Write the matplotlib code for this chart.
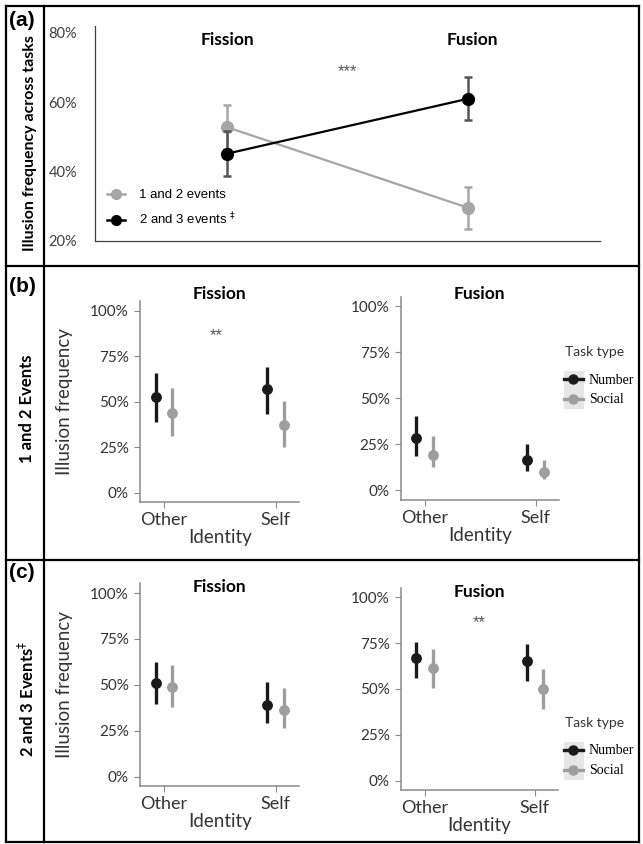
import matplotlib
matplotlib.use('Agg')
import matplotlib.pyplot as plt
from matplotlib.lines import Line2D
from matplotlib.patches import Rectangle
import matplotlib.transforms as mtrans
import numpy as np

# ---------------- data ----------------
# Panel (a): illusion frequency across tasks (%)
conditions_a = ['Fission', 'Fusion']
series_a = ['1 and 2 events', '2 and 3 events $^{‡}$']
ev12_mean = [52.8, 29.6]
ev12_lo = [46.4, 23.5]
ev12_hi = [59.2, 35.5]
ev23_mean = [45.2, 61.0]
ev23_lo = [38.6, 54.9]
ev23_hi = [51.8, 67.3]
yticks_a = [20, 40, 60, 80]

# Panels (b), (c)
identity = ['Other', 'Self']
task_types = ['Number', 'Social']
yticks_bc = [0, 25, 50, 75, 100]

b_fis_num = [52.4, 56.8]; b_fis_num_lo = [38.7, 43.1]; b_fis_num_hi = [65.7, 69.2]
b_fis_soc = [43.8, 36.9]; b_fis_soc_lo = [31.2, 25.2]; b_fis_soc_hi = [57.5, 50.2]
b_fus_num = [28.4, 16.3]; b_fus_num_lo = [18.8, 10.3]; b_fus_num_hi = [40.4, 25.0]
b_fus_soc = [19.2, 10.0]; b_fus_soc_lo = [12.5, 6.2]; b_fus_soc_hi = [29.5, 16.3]

c_fis_num = [51.0, 39.2]; c_fis_num_lo = [39.6, 29.2]; c_fis_num_hi = [62.4, 51.4]
c_fis_soc = [48.6, 36.3]; c_fis_soc_lo = [37.7, 26.5]; c_fis_soc_hi = [60.6, 48.1]
c_fus_num = [67.1, 65.1]; c_fus_num_lo = [56.2, 54.4]; c_fus_num_hi = [75.9, 74.5]
c_fus_soc = [61.7, 49.9]; c_fus_soc_lo = [50.3, 39.1]; c_fus_soc_hi = [71.6, 61.1]

# ---------------- style ----------------
W, H = 643, 844
SANS = ['Lato', 'DejaVu Sans']
ARIAL = ['Liberation Sans', 'DejaVu Sans']
SERIF = ['Liberation Serif', 'DejaVu Serif']
C_NUM = '#1a1a1a'
C_SOC = '#9e9e9e'
C_A12 = '#a6a6a6'
SPINE = '#8a8a8a'

fig = plt.figure(figsize=(W / 100, H / 100), dpi=100)
fig.patch.set_facecolor('white')


def fx(px):
    return px / W


def fy(py):
    return 1 - py / H


def ax_px(x0, y0, x1, y1):
    return fig.add_axes([fx(x0), fy(y1), fx(x1) - fx(x0), (y1 - y0) / H])


# ---------------- frame ----------------
frame_lw = 1.6
L, R, T, B = 6, 639, 6, 842
for (xa_, ya_, xb_, yb_) in [(L, T, R, T), (L, B, R, B), (L, T, L, B), (R, T, R, B),
                             (44, T, 44, B), (L, 266, R, 266), (L, 560, R, 560)]:
    fig.add_artist(Line2D([fx(xa_), fx(xb_)], [fy(ya_), fy(yb_)], color='black',
                          lw=frame_lw, transform=fig.transFigure, solid_capstyle='projecting'))

# ---------------- left column labels ----------------
fig.text(fx(22), fy(20), '(a)', fontsize=15, fontweight='bold', family=ARIAL,
         ha='center', va='center')
fig.text(fx(30), fy(143), 'Illusion frequency across tasks', fontsize=11.5,
         fontweight='bold', family=SANS, rotation=90, ha='center', va='center')
fig.text(fx(22), fy(287), '(b)', fontsize=15, fontweight='bold', family=ARIAL,
         ha='center', va='center')
fig.text(fx(27), fy(409), '1 and 2 Events', fontsize=12,
         fontweight='bold', family=SANS, rotation=90, ha='center', va='center')
fig.text(fx(22), fy(573), '(c)', fontsize=15, fontweight='bold', family=ARIAL,
         ha='center', va='center')
fig.text(fx(27), fy(699), '2 and 3 Events$^{‡}$', fontsize=12,
         fontweight='bold', family=SANS, rotation=90, ha='center', va='center')

# ---------------- panel (a) ----------------
axa = ax_px(95, 26, 600, 241)
xa = np.arange(len(conditions_a))
m12 = np.array(ev12_mean)
m23 = np.array(ev23_mean)
axa.errorbar(xa, m12, yerr=[m12 - np.array(ev12_lo), np.array(ev12_hi) - m12],
             color=C_A12, ecolor=C_A12, lw=1.6, elinewidth=1.8, capsize=3,
             capthick=1.8, marker='o', ms=8.5, zorder=2)
axa.errorbar(xa, m23, yerr=[m23 - np.array(ev23_lo), np.array(ev23_hi) - m23],
             color='black', ecolor='#555555', lw=1.6, elinewidth=1.8, capsize=3,
             capthick=1.8, marker='o', ms=8.5, zorder=3)
axa.set_xlim(-0.55, 1.55)
axa.set_ylim(20, 82)
axa.set_yticks(yticks_a)
axa.set_yticklabels([f'{v}%' for v in yticks_a], family=SANS, fontsize=10.5, color='#404040')
axa.set_xticks([])
axa.tick_params(axis='y', length=0, pad=13)
for s in ['top', 'right']:
    axa.spines[s].set_visible(False)
for s in ['left', 'bottom']:
    axa.spines[s].set_color('#404040')
    axa.spines[s].set_linewidth(0.9)
blend = mtrans.blended_transform_factory(axa.transData, axa.transAxes)
for i, name in enumerate(conditions_a):
    axa.text(i + 0.02 * i, 0.935, name, transform=blend,
             fontsize=12.5, fontweight='bold', family=SANS, ha='center', va='center')
axa.text(0.5, 0.79, '***', transform=axa.transAxes, ha='center', va='center',
         fontsize=12, color='#555555', family=ARIAL)
handles_a = [Line2D([], [], color=C_A12, lw=1.8, marker='o', ms=7),
             Line2D([], [], color='black', lw=1.8, marker='o', ms=7)]
axa.legend(handles_a, series_a, loc='upper left', bbox_to_anchor=(fx(107), fy(189)),
           bbox_transform=fig.transFigure, frameon=False,
           prop={'family': ARIAL, 'size': 9.5}, handlelength=1.4,
           handletextpad=1.0, labelspacing=0.75, borderpad=0, borderaxespad=0)

# ---------------- panels (b), (c) ----------------
xpos = np.arange(len(identity)) + 1
dodge = 0.075


def pointrange(ax, xs, mean, lo, hi, color):
    mean = np.array(mean)
    ax.errorbar(xs, mean, yerr=[mean - np.array(lo), np.array(hi) - mean], fmt='o',
                color=color, ecolor=color, elinewidth=2.4, ms=6.8, capsize=0, zorder=3)


def style_bc(ax, ylabel=False):
    ax.set_xlim(0.785, 2.21)
    ax.set_ylim(-5.3, 105.3)
    ax.set_yticks(yticks_bc)
    ax.set_yticklabels([f'{v}%' for v in yticks_bc], family=SANS, fontsize=11, color='#333333')
    ax.set_xticks(xpos)
    ax.set_xticklabels(identity, family=SANS, fontsize=13, color='#333333')
    off = mtrans.ScaledTranslation(8 / 100, 0, fig.dpi_scale_trans)
    for lab in ax.get_xticklabels():
        lab.set_transform(lab.get_transform() + off)
    ax.tick_params(axis='both', length=4, width=0.8, color=SPINE)
    ax.tick_params(axis='y', pad=4)
    ax.tick_params(axis='x', pad=3)
    for s in ['top', 'right']:
        ax.spines[s].set_visible(False)
    for s in ['left', 'bottom']:
        ax.spines[s].set_color(SPINE)
        ax.spines[s].set_linewidth(1.1)
    ax.set_xlabel('Identity', family=SANS, fontsize=13.5, color='#333333', labelpad=1)
    if ylabel:
        ax.set_ylabel('Illusion frequency', family=SANS, fontsize=13.5, color='#333333')
        ax.yaxis.set_label_coords(-0.42, 0.5)


def title_bc(ax, text, y=1.04):
    ax.text(0.5, y, text, transform=ax.transAxes, ha='center', va='center',
            fontsize=12.5, fontweight='bold', family=SANS)


def stars(ax, text, x, y):
    ax.text(x, y, text, transform=ax.transAxes, ha='center', va='center',
            fontsize=12, color='#555555', family=ARIAL)


axb1 = ax_px(140, 301, 299.3, 502.3)
pointrange(axb1, xpos - dodge, b_fis_num, b_fis_num_lo, b_fis_num_hi, C_NUM)
pointrange(axb1, xpos + dodge, b_fis_soc, b_fis_soc_lo, b_fis_soc_hi, C_SOC)
style_bc(axb1, ylabel=True)
title_bc(axb1, 'Fission', 1.035)
stars(axb1, '**', 0.48, 0.83)

axb2 = ax_px(400.7, 296.7, 559, 500)
pointrange(axb2, xpos - dodge, b_fus_num, b_fus_num_lo, b_fus_num_hi, C_NUM)
pointrange(axb2, xpos + dodge, b_fus_soc, b_fus_soc_lo, b_fus_soc_hi, C_SOC)
style_bc(axb2)
title_bc(axb2, 'Fusion', 1.015)

axc1 = ax_px(140, 583.3, 299.3, 786.3)
pointrange(axc1, xpos - dodge, c_fis_num, c_fis_num_lo, c_fis_num_hi, C_NUM)
pointrange(axc1, xpos + dodge, c_fis_soc, c_fis_soc_lo, c_fis_soc_hi, C_SOC)
style_bc(axc1, ylabel=True)
title_bc(axc1, 'Fission', 0.98)

axc2 = ax_px(401, 587.7, 558, 790.3)
pointrange(axc2, xpos - dodge, c_fus_num, c_fus_num_lo, c_fus_num_hi, C_NUM)
pointrange(axc2, xpos + dodge, c_fus_soc, c_fus_soc_lo, c_fus_soc_hi, C_SOC)
style_bc(axc2)
title_bc(axc2, 'Fusion', 0.98)
stars(axc2, '**', 0.5, 0.83)


# ---------------- Task type legends ----------------
def task_legend(ax, y_title):
    handles = [Line2D([], [], color=C_NUM, lw=2.4, marker='o', ms=6.5),
               Line2D([], [], color=C_SOC, lw=2.4, marker='o', ms=6.5)]
    for k in range(2):
        fig.add_artist(Rectangle((fx(563.5), fy(y_title + 18 + 19.5 * (k + 1))), 20 / W, 19 / H,
                                 transform=fig.transFigure, facecolor='#e6e6e6',
                                 edgecolor='none', zorder=0))
    fig.text(fx(565), fy(y_title), 'Task type', family=SANS, fontsize=10,
             color='#333333', ha='left', va='center')
    lg = ax.legend(handles, task_types, loc='upper left',
                   bbox_to_anchor=(fx(564), fy(y_title + 21.5)), bbox_transform=fig.transFigure,
                   frameon=False, prop={'family': SERIF, 'size': 10}, handlelength=1.35,
                   handletextpad=0.45, labelspacing=0.5, borderpad=0, borderaxespad=0)
    return lg


task_legend(axb2, 352)
task_legend(axc2, 723)

fig.savefig('out.png', dpi=100, facecolor='white')
